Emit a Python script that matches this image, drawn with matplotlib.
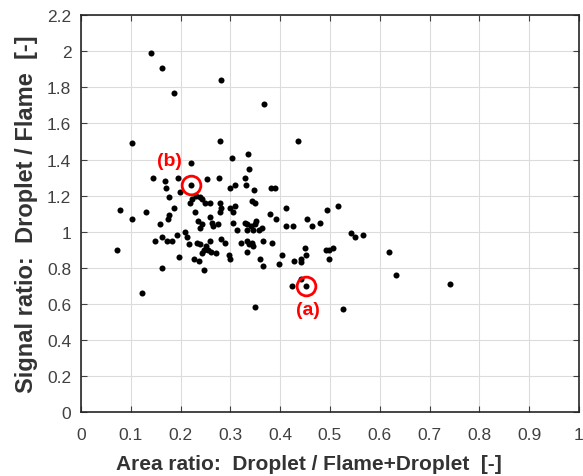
import numpy as np
import matplotlib
matplotlib.use("Agg")
import matplotlib.pyplot as plt

plt.rcParams['font.family'] = ['Liberation Sans', 'DejaVu Sans']

#%% Data
area_ratio = [
    0.141, 0.163, 0.187, 0.281, 0.368, 0.102, 0.279, 0.436, 0.335, 0.303,
    0.220, 0.338, 0.144, 0.168, 0.195, 0.220, 0.252, 0.278, 0.329, 0.331,
    0.310, 0.299, 0.347, 0.381, 0.390, 0.171, 0.199, 0.177, 0.223, 0.230,
    0.238, 0.243, 0.248, 0.259, 0.219, 0.279, 0.282, 0.300, 0.305, 0.310,
    0.343, 0.349, 0.131, 0.187, 0.177, 0.174, 0.159, 0.078, 0.103, 0.228,
    0.234, 0.243, 0.239, 0.260, 0.263, 0.266, 0.279, 0.276, 0.305, 0.313,
    0.329, 0.334, 0.333, 0.341, 0.345, 0.351, 0.349, 0.358, 0.363, 0.380,
    0.392, 0.412, 0.412, 0.425, 0.453, 0.464, 0.479, 0.495, 0.516, 0.542,
    0.550, 0.566, 0.072, 0.148, 0.163, 0.172, 0.183, 0.193, 0.209, 0.212,
    0.216, 0.232, 0.239, 0.250, 0.247, 0.243, 0.256, 0.262, 0.272, 0.260,
    0.282, 0.290, 0.298, 0.299, 0.322, 0.334, 0.338, 0.343, 0.346, 0.333,
    0.366, 0.384, 0.359, 0.366, 0.397, 0.403, 0.428, 0.441, 0.449, 0.452,
    0.442, 0.493, 0.498, 0.499, 0.507, 0.618, 0.633, 0.741, 0.527, 0.349,
    0.122, 0.442, 0.424, 0.452, 0.196, 0.226, 0.236, 0.247, 0.162,
]
signal_ratio = [
    1.99, 1.91, 1.77, 1.84, 1.71, 1.49, 1.50, 1.50, 1.43, 1.41,
    1.38, 1.35, 1.30, 1.28, 1.30, 1.26, 1.29, 1.30, 1.30, 1.26,
    1.26, 1.24, 1.23, 1.24, 1.24, 1.24, 1.22, 1.19, 1.18, 1.20,
    1.19, 1.18, 1.16, 1.16, 1.16, 1.16, 1.13, 1.13, 1.11, 1.14,
    1.17, 1.16, 1.11, 1.13, 1.09, 1.07, 1.04, 1.12, 1.07, 1.11,
    1.06, 1.04, 1.02, 1.08, 1.05, 1.03, 1.11, 1.04, 1.05, 1.01,
    1.05, 1.04, 1.01, 1.03, 1.01, 1.06, 1.04, 1.01, 1.02, 1.10,
    1.07, 1.13, 1.03, 1.03, 1.07, 1.03, 1.05, 1.12, 1.14, 0.99,
    0.97, 0.98, 0.90, 0.95, 0.97, 0.95, 0.95, 0.98, 1.00, 0.97,
    0.93, 0.94, 0.93, 0.92, 0.90, 0.88, 0.90, 0.89, 0.88, 0.95,
    0.96, 0.94, 0.87, 0.85, 0.94, 0.95, 0.93, 0.94, 0.92, 0.89,
    0.95, 0.94, 0.85, 0.81, 0.82, 0.87, 0.84, 0.83, 0.91, 0.87,
    0.85, 0.90, 0.90, 0.85, 0.91, 0.89, 0.76, 0.71, 0.57, 0.58,
    0.66, 0.74, 0.70, 0.70, 0.86, 0.85, 0.84, 0.79, 0.80,
]

# highlighted cases
case_labels = ['(a)', '(b)']
case_x = [0.452, 0.220]
case_y = [0.70, 1.26]

xticks = np.arange(0, 1.01, 0.1)
yticks = np.arange(0, 2.21, 0.2)

#%% Plot
fig = plt.figure(figsize=(5.83, 4.77), dpi=100)
ax = fig.add_axes([0.139, 0.134, 0.854, 0.832])

ax.scatter(area_ratio, signal_ratio, s=19, color='black', zorder=3, linewidths=0)

# red circles + labels
ax.plot(case_x, case_y, linestyle='', marker='o', markersize=13.5,
        markerfacecolor='none', markeredgecolor='#ff0000', markeredgewidth=2, zorder=4)
ax.text(case_x[0] + 0.003, case_y[0] - 0.13, case_labels[0], color='#ff0000',
        fontsize=14, fontweight='bold', ha='center', va='center')
ax.text(case_x[1] - 0.042, case_y[1] + 0.135, case_labels[1], color='#ff0000',
        fontsize=14, fontweight='bold', ha='center', va='center')

ax.set_xlim(0, 1)
ax.set_ylim(0, 2.2)
ax.set_xticks(xticks)
ax.set_yticks(yticks)
ax.set_xticklabels(['0'] + ['%.1f' % v for v in xticks[1:-1]] + ['1'])
ax.set_yticklabels(['0'] + ['%.1f' % v for v in yticks[1:5]] + ['1']
                   + ['%.1f' % v for v in yticks[6:10]] + ['2', '2.2'])
ax.grid(True, color='#dcdcdc', linewidth=0.8)
ax.set_axisbelow(True)
ax.tick_params(direction='in', top=True, right=True, length=4, width=0.8,
               labelsize=12.5, colors='#404040')
ax.tick_params(axis='x', pad=11)
ax.tick_params(axis='y', pad=7)
for s in ax.spines.values():
    s.set_color('#262626')
    s.set_linewidth(1.2)

ax.set_xlabel('Area ratio:  Droplet / Flame+Droplet  [-]', fontsize=15,
              fontweight='bold', color='#333333')
ax.set_ylabel('Signal ratio:  Droplet / Flame  [-]', fontsize=17,
              fontweight='bold', color='#333333')
ax.xaxis.set_label_coords(0.458, -0.105)
ax.yaxis.set_label_coords(-0.086, 0.5)

fig.savefig('out.png', dpi=100)
